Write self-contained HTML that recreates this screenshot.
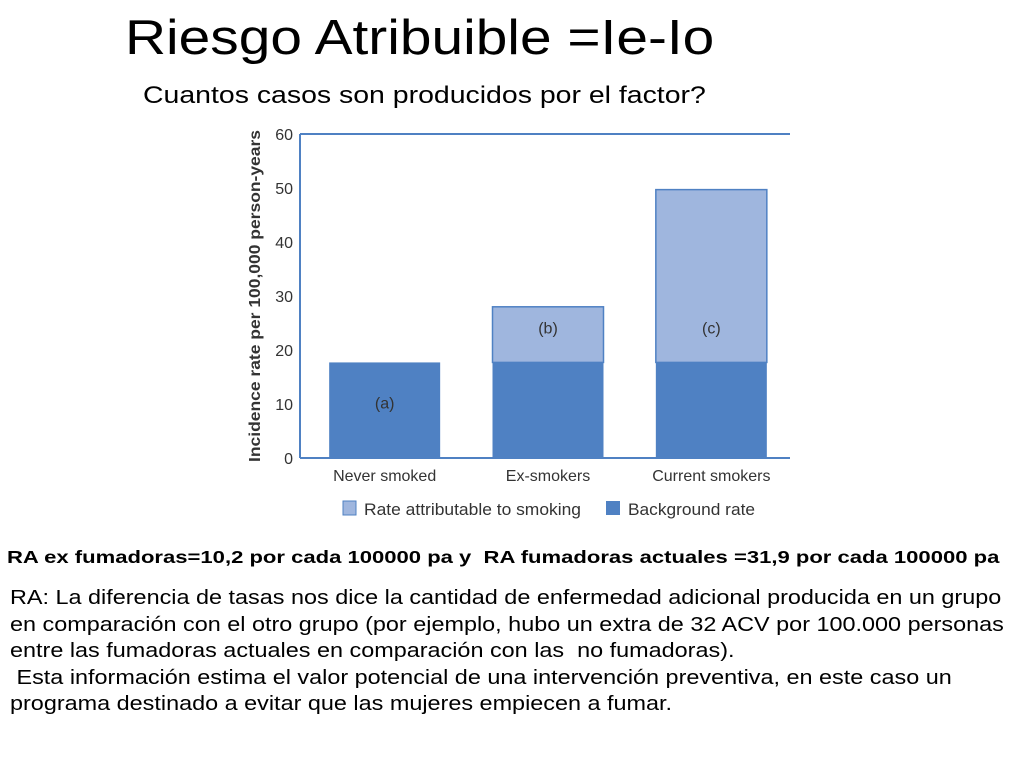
<!DOCTYPE html>
<html><head><meta charset="utf-8"><style>
body{margin:0;width:1024px;height:768px;background:#fff;position:relative;overflow:hidden;font-family:"Liberation Sans",sans-serif;}
.t{position:absolute;white-space:nowrap;color:#000;transform-origin:0 0;}
</style></head><body>
<div class="t" style="left:125px;top:10px;font-size:49px;transform:scaleX(1.16);">Riesgo Atribuible =Ie-Io</div>
<div class="t" style="left:143px;top:82px;font-size:24px;transform:scaleX(1.185);">Cuantos casos son producidos por el factor?</div>
<svg id="chart" width="1024" height="540" style="position:absolute;left:0;top:0" font-family="Liberation Sans, sans-serif"></svg>
<div class="t" style="left:7px;top:547px;font-size:17.5px;font-weight:bold;transform:scaleX(1.26);">RA ex fumadoras=10,2 por cada 100000 pa y&nbsp; RA fumadoras actuales =31,9 por cada 100000 pa</div>
<div class="t" style="left:10px;top:585px;font-size:20px;line-height:26.5px;transform:scaleX(1.17);">RA: La diferencia de tasas nos dice la cantidad de enfermedad adicional producida en un grupo<br>en comparación con el otro grupo (por ejemplo, hubo un extra de 32 ACV por 100.000 personas<br>entre las fumadoras actuales en comparación con las&nbsp; no fumadoras).<br>&nbsp;Esta información estima el valor potencial de una intervención preventiva, en este caso un<br>programa destinado a evitar que las mujeres empiecen a fumar.</div>
<script>
const categories=["Never smoked","Ex-smokers","Current smokers"];
const background=[17.7,17.7,17.7];
const attributable=[0,10.3,32.0];
const barLabels=["(a)","(b)","(c)"];
const yTicks=[0,10,20,30,40,50,60];
const NS="http://www.w3.org/2000/svg";
const svg=document.getElementById("chart");
const x0=300,x1=790,y0=458,y1=134,yMax=60;
const y=v=>y0-(v/yMax)*(y0-y1);
const band=(x1-x0)/categories.length;
const bw=111;
const bx=i=>x0+band*i+band/2-bw/2+3;
function mk(t,a,txt){const e=document.createElementNS(NS,t);for(const k in a)e.setAttribute(k,a[k]);if(txt!=null)e.textContent=txt;svg.appendChild(e);return e;}
categories.forEach((c,i)=>{
 const r1=mk("rect",{x:bx(i),y:y(background[i]),width:bw,height:y0-y(background[i]),fill:"#4f81c3"});
 
 
 let ly;
 if(attributable[i]>0){
  const top=background[i]+attributable[i];
  const r2=mk("rect",{x:bx(i),y:y(top),width:bw,height:y(background[i])-y(top),fill:"#9fb6de",stroke:"#4f81c3","stroke-width":1.5});
  
  
  ly=y(background[i]+6.5)+6;
 } else {
  ly=y(background[i]*0.58)+6;
 }
 const l=mk("text",{x:bx(i)+bw/2,y:ly,"font-size":16,"text-anchor":"middle",fill:"#333"},barLabels[i]);
 
 
 const cl=mk("text",{x:bx(i)+bw/2,y:481,"font-size":16,"text-anchor":"middle",fill:"#333"},c);
 
 
});
yTicks.forEach(t=>{
 const tl=mk("text",{x:293,y:y(t)+6,"font-size":16,"text-anchor":"end",fill:"#333"},t);
 
 
});
const ax=mk("line",{x1:x0,y1:y1,x2:x0,y2:y0,stroke:"#4f81c3","stroke-width":2});


const bx2=mk("line",{x1:x0,y1:y0,x2:x1,y2:y0,stroke:"#4f81c3","stroke-width":2});


const tp=mk("line",{x1:x0,y1:y1,x2:x1,y2:y1,stroke:"#4f81c3","stroke-width":2});


const yt=mk("text",{x:0,y:0,"font-size":15.5,"font-weight":"bold","text-anchor":"middle",fill:"#333",transform:"translate(260,296) rotate(-90)",textLength:332,lengthAdjust:"spacingAndGlyphs"},"Incidence rate per 100,000 person-years");


const s1=mk("rect",{x:343,y:501,width:13,height:14,fill:"#9fb6de",stroke:"#4f81c3"});


const l1=mk("text",{x:364,y:515,"font-size":16.5,fill:"#333",textLength:217,lengthAdjust:"spacingAndGlyphs"},"Rate attributable to smoking");


const s2=mk("rect",{x:606,y:501,width:14,height:14,fill:"#4f81c3"});


const l2=mk("text",{x:628,y:515,"font-size":16.5,fill:"#333",textLength:127,lengthAdjust:"spacingAndGlyphs"},"Background rate");


</script>
</body></html>
